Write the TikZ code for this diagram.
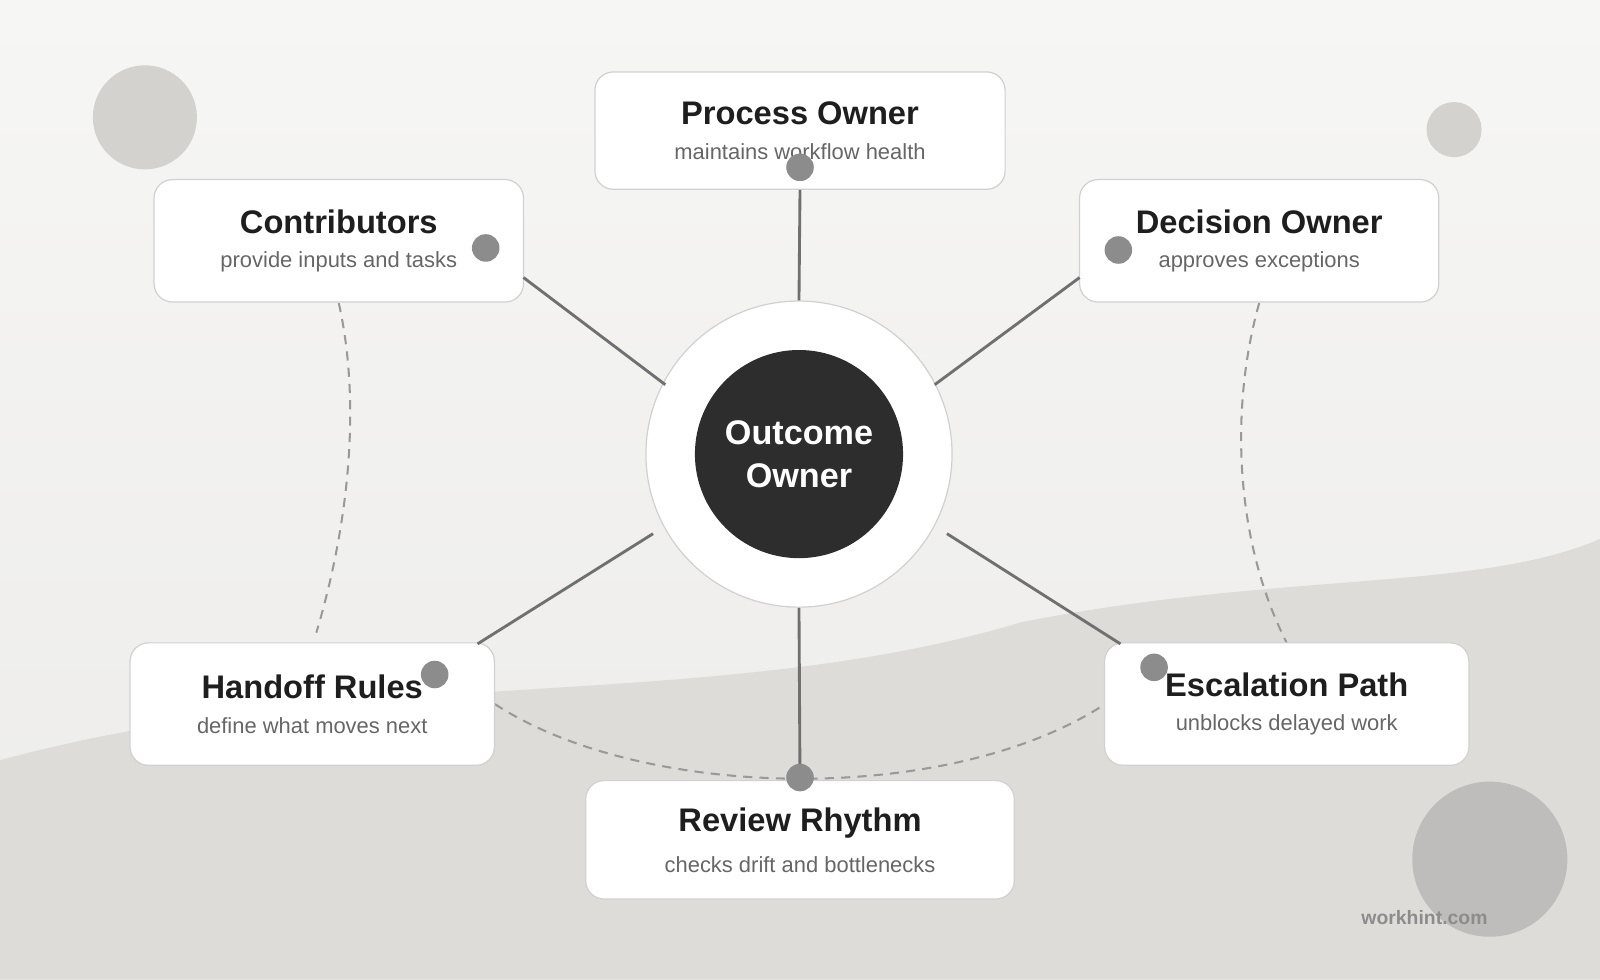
\documentclass[tikz,border=0pt]{standalone}
\usepackage{fontspec}
\setmainfont{Liberation Sans}
\usepackage{tikz}
\usetikzlibrary{positioning}

\definecolor{bgtop}{HTML}{F6F6F5}
\definecolor{bgbot}{HTML}{ECEBEA}
\definecolor{wave}{HTML}{DEDCD9}
\definecolor{blob}{HTML}{D4D2CF}
\definecolor{blobdark}{HTML}{BEBDBC}
\definecolor{spoke}{HTML}{707070}
\definecolor{dot}{HTML}{8C8C8C}
\definecolor{hubdark}{HTML}{2D2D2D}
\definecolor{subtext}{HTML}{666666}
\definecolor{titletext}{HTML}{1E1E1E}

\tikzset{
  role/.style={draw=black!18, line width=1.2pt, fill=white, rounded corners=18pt,
    align=center, minimum height=120pt, inner sep=0pt},
  pin/.style={circle, fill=dot, minimum size=27pt, inner sep=0pt},
  link/.style={draw=spoke, line width=2.8pt},
  trail/.style={draw=black!40, line width=2pt, dash pattern=on 9pt off 7pt},
}

\newcommand{\roletext}[2]{{\bfseries\fontsize{32}{38}\selectfont\color{titletext}#1}\\[17pt]{\fontsize{21.5}{25}\selectfont\color{subtext}#2}}

\begin{document}
\begin{tikzpicture}[x=1pt, y=-1pt]
    \useasboundingbox (0,0) rectangle (1568,960);
    % background and wave
    \shade[top color=bgtop, bottom color=bgbot] (0,0) rectangle (1568,960);
    \fill[wave] (0,745) .. controls (350,650) and (700,700) .. (1000,610)
        .. controls (1250,560) and (1450,580) .. (1568,528) -- (1568,960) -- (0,960) -- cycle;

    % decorative blobs
    \fill[blob] (142,115) circle (51);
    \fill[blob] (1425,127) circle (27);
    \fill[blobdark] (1460,842) circle (76);

    % dashed trails
    \draw[trail] (332,297) .. controls (355,400) and (340,520) .. (310,620);
    \draw[trail] (1234,297) .. controls (1205,400) and (1210,530) .. (1261,630);
    \draw[trail] (485,690) .. controls (630,785) and (930,790) .. (1083,690);

    % spoke end points
    \coordinate (c1) at (513,272); \coordinate (h1) at (652,377);
    \coordinate (c2) at (1058,272); \coordinate (h2) at (916,377);
    \coordinate (c3) at (468,631); \coordinate (h3) at (640,523);
    \coordinate (c4) at (1098,631); \coordinate (h4) at (928,523);

    % hub
    \node[circle, fill=white, draw=black!18, line width=1.2pt, minimum size=300pt] (hub) at (783,445) {};
    \node[circle, fill=hubdark, minimum size=204pt, align=center, text=white,
          font=\bfseries\fontsize{33.5}{42}\selectfont] (core) at (783,445) {Outcome\\Owner};

    % roles
    \node[role, minimum width=402pt, minimum height=115pt] (process) at (784,128) {\roletext{Process Owner}{maintains workflow health}};
    \node[role, minimum width=362pt] (contrib) at (332,236) {\roletext{Contributors}{provide inputs and tasks}};
    \node[role, minimum width=352pt] (decision) at (1234,236) {\roletext{Decision Owner}{approves exceptions}};
    \node[role, minimum width=357pt] (handoff) at (306,690) {\roletext{Handoff Rules}{define what moves next}};
    \node[role, minimum width=357pt] (escal) at (1261,690) {\roletext{Escalation Path}{unblocks delayed work}};
    \node[role, minimum width=420pt, minimum height=116pt] (review) at (784,823) {\roletext{Review Rhythm}{checks drift and bottlenecks}};

    % spokes
    \draw[link] (process.south) -- (hub.north);
    \draw[link] (review.north) -- (hub.south);
    \draw[link] (c1) -- (h1);
    \draw[link] (c2) -- (h2);
    \draw[link] (c3) -- (h3);
    \draw[link] (c4) -- (h4);

    % pins
    \node[pin] (p1) at (784,164) {};
    \node[pin] (p2) at (476,243) {};
    \node[pin] (p3) at (1096,245) {};
    \node[pin] (p4) at (426,661) {};
    \node[pin] (p5) at (1131,654) {};
    \node[pin] (p6) at (784,762) {};

    \node[font=\bfseries\fontsize{19}{22}\selectfont, text=black!45] (brand) at (1396,899) {workhint.com};
\end{tikzpicture}
\end{document}
